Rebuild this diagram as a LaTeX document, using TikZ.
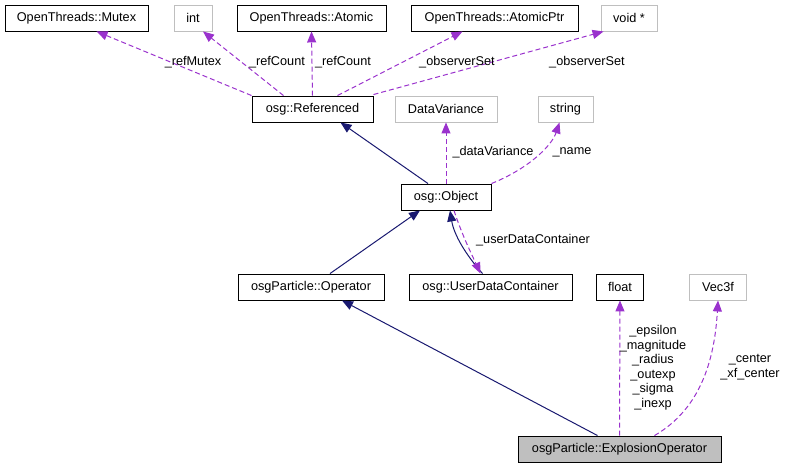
\documentclass[tikz,border=0pt]{standalone}
\usepackage{fontspec}
\setmainfont{Liberation Sans}
\usetikzlibrary{arrows.meta}
\definecolor{edgepurple}{HTML}{9A32CD}
\definecolor{edgenavy}{HTML}{191970}
\definecolor{lightborder}{HTML}{BFBFBF}
\begin{document}
\begin{tikzpicture}[x=1pt,y=-1pt,
  every node/.style={font=\fontsize{12.7}{14.5}\selectfont, inner sep=0pt},
  cls/.style={draw=black, line width=0.9pt, minimum height=26pt, fill=white},
  ext/.style={draw=lightborder, line width=0.9pt, minimum height=26pt, fill=white},
  usage/.style={edgepurple, line width=1pt, dash pattern=on 5pt off 3pt, -{Triangle[length=11pt,width=9pt]}},
  inherit/.style={edgenavy, line width=1pt, -{Triangle[length=11pt,width=9pt]}},
  lbl/.style={align=center}]
\useasboundingbox (0,0) rectangle (785,468);
% nodes
\node[cls, minimum width=143pt] (mutex) at (76.5,18) {OpenThreads::Mutex};
\node[ext, minimum width=38pt] (int) at (193,18) {int};
\node[cls, minimum width=149pt] (atomic) at (311.5,18) {OpenThreads::Atomic};
\node[cls, minimum width=167pt] (atomicptr) at (494.5,18) {OpenThreads::AtomicPtr};
\node[ext, minimum width=56pt] (void) at (629,18) {void *};
\node[cls, minimum width=121pt] (ref) at (312.5,109) {osg::Referenced};
\node[ext, minimum width=102pt] (dv) at (446,109) {DataVariance};
\node[ext, minimum width=55pt] (string) at (565.5,109) {string};
\node[cls, minimum width=90pt] (obj) at (446,197) {osg::Object};
\node[cls, minimum width=146pt] (op) at (311,287) {osgParticle::Operator};
\node[cls, minimum width=163pt] (udc) at (490.5,287) {osg::UserDataContainer};
\node[cls, minimum width=47pt] (float) at (620,287) {float};
\node[ext, minimum width=57pt] (vec) at (718,287) {Vec3f};
\node[cls, fill=lightborder, minimum width=203pt] (eo) at (619.5,449) {osgParticle::ExplosionOperator};
% edges to Referenced members
\draw[usage] (ref.north west) -- ([xshift=20pt]mutex.south);
\draw[usage] ([xshift=-29pt]ref.north) -- ([xshift=10pt]int.south);
\draw[usage] (ref.north) -- (atomic.south);
\draw[usage] ([xshift=25pt]ref.north) -- ([xshift=-32pt]atomicptr.south);
\draw[usage] ([yshift=1pt]ref.north east) -- ([xshift=3pt]void.south west);
\node[lbl] (l1) at (193,62) {\_refMutex};
\node[lbl] (l2) at (277,62) {\_refCount};
\node[lbl] (l3) at (343,62) {\_refCount};
\node[lbl] (l4) at (457,62) {\_observerSet};
\node[lbl] (l5) at (587,62) {\_observerSet};
% Object
\draw[inherit] ([xshift=-18pt]obj.north) -- ([xshift=28pt]ref.south);
\draw[usage] (obj.north) -- (dv.south);
\draw[usage] (obj.north east) .. controls (530,168) and (552,145) .. ([xshift=-6pt]string.south);
\node[lbl] (l6) at (493,152) {\_dataVariance};
\node[lbl] (l7) at (572,152) {\_name};
% Operator, UDC
\draw[inherit] ([xshift=19pt]op.north) -- ([xshift=-26pt]obj.south);
\draw[inherit] ([xshift=-8pt]udc.north) .. controls (466,255) and (454,235) .. ([xshift=4pt]obj.south);
\draw[usage] ([xshift=8pt]obj.south) .. controls (462,235) and (472,255) .. ([xshift=-10pt]udc.north);
\node[lbl] (l8) at (533,240) {\_userDataContainer};
% ExplosionOperator
\draw[inherit] ([xshift=-22pt]eo.north) -- ([xshift=31pt]op.south);
\draw[usage] (eo.north) -- (float.south);
\draw[usage] ([xshift=35pt]eo.north) .. controls (695,412) and (714,370) .. (vec.south);
\node[lbl, font=\fontsize{12.7}{14.5}\selectfont] (l9) at (653,367.5) {\_epsilon\\\_magnitude\\\_radius\\\_outexp\\\_sigma\\\_inexp};
\node[lbl, font=\fontsize{12.7}{15.5}\selectfont] (l10) at (750,367) {\_center\\\_xf\_center};
\end{tikzpicture}
\end{document}
